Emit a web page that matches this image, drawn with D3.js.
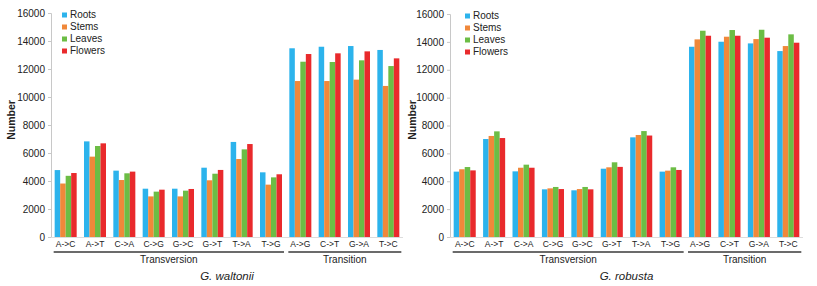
<!DOCTYPE html>
<html><head><meta charset="utf-8">
<script src="https://cdn.jsdelivr.net/npm/d3@7"></script>
<style>
html,body{margin:0;padding:0;background:#fff;}
svg{display:block;font-family:"Liberation Sans",Arial,sans-serif;}
</style></head>
<body><svg id="c" width="817" height="286"></svg>
<script>
const categories = ["A->C","A->T","C->A","C->G","G->C","G->T","T->A","T->G","A->G","C->T","G->A","T->C"];
const seriesNames = ["Roots","Stems","Leaves","Flowers"];
const colors = ["#2cb3ec","#f0883a","#6cbd45","#e92a2c"];
const yTicks = [0,2000,4000,6000,8000,10000,12000,14000,16000];
const groups = [{name:"Transversion", from:0, to:7},{name:"Transition", from:8, to:11}];

// G. waltonii
const waltoniiRoots   = [4780,6830,4740,3450,3450,4950,6790,4620,13480,13590,13640,13360];
const waltoniiStems   = [3820,5740,4070,2900,2900,4050,5570,3740,11140,11140,11240,10790];
const waltoniiLeaves  = [4370,6500,4550,3240,3310,4520,6260,4260,12520,12500,12620,12210];
const waltoniiFlowers = [4570,6690,4670,3380,3430,4790,6640,4480,13070,13120,13260,12760];
// G. robusta
const robustaRoots   = [4690,7030,4710,3420,3350,4900,7150,4690,13650,14010,13890,13340];
const robustaStems   = [4860,7250,4970,3490,3440,5000,7320,4760,14180,14370,14200,13700];
const robustaLeaves  = [5020,7580,5190,3590,3590,5360,7600,5000,14800,14850,14870,14540];
const robustaFlowers = [4780,7100,4970,3440,3420,5030,7280,4810,14440,14440,14300,13940];

const panels = [
  {title:"G. waltonii", series:[waltoniiRoots,waltoniiStems,waltoniiLeaves,waltoniiFlowers],
   x0:51, x1:403, yTop:13, yBot:237, numX:11, legX:62},
  {title:"G. robusta", series:[robustaRoots,robustaStems,robustaLeaves,robustaFlowers],
   x0:450, x1:803, yTop:14, yBot:237, numX:412, legX:465}
];

const svg = d3.select("#c");

panels.forEach(p => {
  const g = svg.append("g");
  const x = d3.scaleBand().domain(categories).range([p.x0, p.x1]).paddingInner(0.25).paddingOuter(0.125);
  const xs = d3.scaleBand().domain(seriesNames).range([0, x.bandwidth()]);
  const y = d3.scaleLinear().domain([0,16000]).range([p.yBot, p.yTop]);

  // y axis
  const ya = g.append("g").attr("transform",`translate(${p.x0},0)`)
    .call(d3.axisLeft(y).tickValues(yTicks).tickSize(3).tickPadding(3).tickFormat(d3.format("d")));
  ya.select(".domain").attr("stroke","#c8c8c8");
  ya.selectAll(".tick line").attr("stroke","#c8c8c8");
  ya.selectAll("text").attr("font-size",10).attr("fill","#222").attr("font-family","Liberation Sans, Arial, sans-serif");

  // baseline
  g.append("line").attr("x1",p.x0).attr("x2",p.x1).attr("y1",p.yBot+0.5).attr("y2",p.yBot+0.5).attr("stroke","#dcdcdc");

  // bars
  seriesNames.forEach((s,si) => {
    g.append("g").selectAll("rect").data(p.series[si]).join("rect")
      .attr("x",(d,i)=>x(categories[i])+xs(s))
      .attr("width",xs.bandwidth())
      .attr("y",d=>y(d))
      .attr("height",d=>y(0)-y(d))
      .attr("fill",colors[si]);
  });

  // x tick labels
  const xa = g.append("g").attr("transform",`translate(0,${p.yBot})`)
    .call(d3.axisBottom(x).tickSize(0).tickPadding(4));
  xa.select(".domain").remove();
  xa.selectAll("text").attr("font-size",8.5).attr("fill","#222").attr("font-family","Liberation Sans, Arial, sans-serif");

  // group brackets
  groups.forEach(gr => {
    const a = x(categories[gr.from]) - 1;
    const b = x(categories[gr.to]) + x.bandwidth() + 2;
    g.append("line").attr("x1",a).attr("x2",b).attr("y1",252).attr("y2",252)
      .attr("stroke","#3a3a3a").attr("stroke-width",1.4);
    g.append("text").attr("x",(a+b)/2).attr("y",263).attr("text-anchor","middle")
      .attr("font-size",10).attr("fill","#222").text(gr.name);
  });

  // species title
  const mid = (x(categories[0]) + x(categories[11]) + x.bandwidth())/2;
  g.append("text").attr("x",mid).attr("y",280).attr("text-anchor","middle")
    .attr("font-size",11.5).attr("font-style","italic").attr("fill","#222").text(p.title);

  // y label
  g.append("text").attr("transform",`translate(${p.numX+4},${120}) rotate(-90)`)
    .attr("text-anchor","middle").attr("font-size",10.5).attr("font-weight","bold").attr("fill","#222").text("Number");

  // legend
  const lg = g.append("g").attr("transform",`translate(${p.legX},${p.yTop})`);
  seriesNames.forEach((s,si) => {
    lg.append("rect").attr("x",0).attr("y",si*12-0.5).attr("width",5).attr("height",5).attr("fill",colors[si]);
    lg.append("text").attr("x",8).attr("y",si*12+5).attr("font-size",10).attr("fill","#222").text(s);
  });
});
</script></body></html>
